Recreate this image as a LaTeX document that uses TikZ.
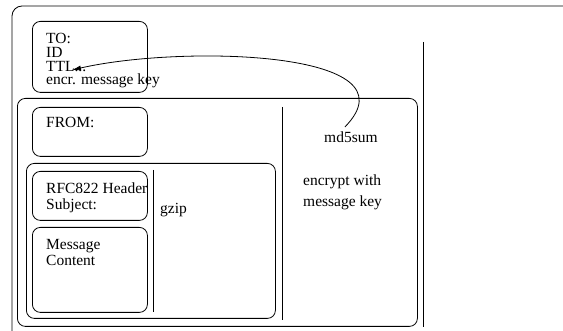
\documentclass[tikz,border=0pt]{standalone}
\usepackage{fontspec}
\setmainfont{Liberation Serif}
\usetikzlibrary{arrows,arrows.meta,positioning}
\tikzstyle{box}=[draw, rounded corners=8pt, anchor=north west
,inner sep=0pt
,line width=0.8pt
]
\tikzstyle{lbl}=[anchor=north west, inner sep=0pt, align=left]
\tikzstyle{edge} = [draw,line width=0.8pt,-{Latex[length=9pt,width=5pt]}]

\begin{document}
\begin{tikzpicture}[x=1pt,y=-1pt,font=\fontsize{15.5}{13.8}\selectfont]
    \useasboundingbox (0,0) rectangle (563,331);
    \clip (0,0) rectangle (563,331);
    % Outer frame, it runs off the page
    \draw[line width=0.8pt, rounded corners=10pt] (12,345) -- (12,6) -- (580,6);

    % First we draw the boxes
    \foreach \pos/\name/\w/\h in {{(32,21)/tobox/115/71}, {(17,98)/pkt/400/228}, {(32,107)/frombox/115/49}, {(26,163)/zipbox/249/155}, {(32,171)/rfcbox/115/49}, {(32,227)/msgbox/115/85}}
        \node[box, minimum width=\w pt, minimum height=\h pt] (\name) at \pos {};

    % Dividers
    \draw[line width=0.8pt] (423,42) -- (423,327);
    \draw[line width=0.8pt] (282,107) -- (282,320);
    \draw[line width=0.8pt] (153,170) -- (153,312);

    % Texts
    \node[lbl] (tolbl) at (46,33) {TO:\\ID\\TTL...\\encr. message key};
    \node[lbl] (fromlbl) at (46,117) {FROM:};
    \node[lbl, font=\fontsize{15.5}{16}\selectfont] (rfclbl) at (46,183) {RFC822 Header\\Subject:};
    \node[lbl, font=\fontsize{15.5}{16}\selectfont] (msglbl) at (46,239) {Message\\Content};
    \node[lbl] (gzip) at (160,203) {gzip};
    \node[lbl] (md5) at (324,132) {md5sum};
    \node[lbl, font=\fontsize{15.5}{21}\selectfont] (enc) at (303,175) {encrypt with\\message key};

    % md5sum goes back into the header
    \coordinate (ttl) at (72,70);
    \path[edge] ([xshift=-6pt,yshift=5pt]md5.north) .. controls (420,50) and (180,45) .. (ttl);
\end{tikzpicture}
\end{document}
